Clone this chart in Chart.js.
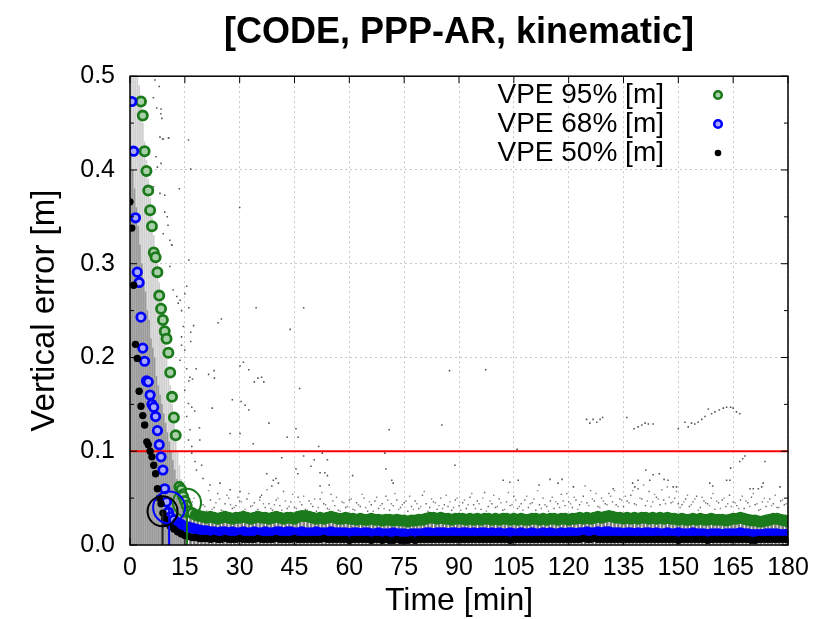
<!DOCTYPE html>
<html>
<head>
<meta charset="utf-8">
<script src="https://cdn.jsdelivr.net/npm/chart.js@4/dist/chart.umd.min.js"></script>
<style>
  html, body { margin: 0; padding: 0; background: #fff; }
  #wrap { width: 819px; height: 619px; position: relative; }
</style>
</head>
<body>
<div id="wrap"><canvas id="vpeChart"></canvas></div>
<script>
// ---- data ----
// percentile points before convergence (time [min], value [m])
const greenEarlyT = [3, 3.5, 4, 4.5, 5, 5.5, 6, 6.5, 7, 7.5, 8, 8.5, 9, 9.5, 10, 10.5, 11, 11.5, 12, 12.5, 13.5, 14, 14.5, 15, 15.5];
const greenEarlyV = [0.473, 0.458, 0.420, 0.399, 0.378, 0.357, 0.340, 0.312, 0.307, 0.291, 0.266, 0.252, 0.240, 0.228, 0.220, 0.205, 0.184, 0.158, 0.136, 0.117, 0.062, 0.059, 0.052, 0.047, 0.042];
const blueEarlyT = [0.5, 1, 1.5, 2, 2.5, 3, 3.5, 4, 4.5, 5, 5.5, 6, 6.5, 7, 7.5, 8, 8.5, 9, 9.5, 10, 10.5];
const blueEarlyV = [0.473, 0.420, 0.349, 0.291, 0.280, 0.243, 0.210, 0.196, 0.175, 0.174, 0.160, 0.150, 0.147, 0.137, 0.122, 0.107, 0.094, 0.080, 0.060, 0.046, 0.035];
const blackEarlyT = [0, 0.5, 1, 1.5, 2, 2.5, 3, 3.5, 4, 4.6, 5, 5.5, 6, 6.5, 7, 7.5, 8, 8.5, 9, 9.5];
const blackEarlyV = [0.366, 0.338, 0.277, 0.214, 0.199, 0.164, 0.148, 0.138, 0.128, 0.110, 0.107, 0.100, 0.094, 0.085, 0.076, 0.060, 0.050, 0.044, 0.034, 0.028];

// percentile values once per minute after convergence
const greenLateStart = 16;
const greenLate = [
  0.036,0.034,0.032,0.031,0.030,0.029,0.030,0.029,0.028,0.029,0.030,0.029,0.028,0.029,0.029,
  0.030,0.029,0.028,0.029,0.030,0.029,0.029,0.028,0.029,0.030,0.029,0.028,0.029,0.029,0.028,
  0.030,0.031,0.031,0.030,0.029,0.028,0.029,0.028,0.029,0.030,0.029,0.028,0.028,0.029,0.028,
  0.028,0.027,0.028,0.027,0.027,0.028,0.027,0.027,0.026,0.027,0.027,0.026,0.027,0.026,0.026,
  0.025,0.026,0.026,0.027,0.027,0.028,0.029,0.029,0.028,0.029,0.028,0.028,0.027,0.028,0.028,
  0.028,0.027,0.028,0.027,0.028,0.027,0.028,0.028,0.027,0.028,0.027,0.028,0.028,0.027,0.028,
  0.027,0.028,0.027,0.027,0.028,0.028,0.027,0.028,0.027,0.028,0.028,0.027,0.028,0.028,0.027,
  0.028,0.028,0.029,0.028,0.029,0.028,0.029,0.030,0.029,0.030,0.031,0.030,0.029,0.029,0.028,
  0.029,0.028,0.029,0.028,0.029,0.029,0.028,0.029,0.028,0.029,0.028,0.029,0.028,0.028,0.027,
  0.028,0.027,0.027,0.028,0.027,0.028,0.027,0.027,0.028,0.027,0.027,0.027,0.026,0.027,0.028,
  0.028,0.029,0.028,0.027,0.026,0.026,0.025,0.025,0.026,0.027,0.028,0.028,0.027,0.026,0.025
];
const blueLateStart = 11;
const blueLate = [
  0.030,0.027,0.024,0.022,0.020,0.019,0.018,0.017,0.016,0.015,
  0.015,0.014,0.014,0.013,0.014,0.014,0.013,0.014,0.013,0.013,0.014,0.013,0.013,0.014,0.013,0.013,
  0.014,0.013,0.013,0.014,0.014,0.013,0.014,0.014,0.013,0.013,0.014,0.013,0.013,0.013,0.014,0.013,
  0.013,0.013,0.014,0.013,0.013,0.013,0.013,0.012,0.013,0.013,0.012,0.013,0.013,0.012,0.012,0.013,
  0.012,0.012,0.012,0.013,0.012,0.012,0.012,0.011,0.012,0.012,0.012,0.012,0.013,0.013,0.012,0.013,
  0.013,0.013,0.012,0.013,0.013,0.012,0.013,0.013,0.012,0.013,0.012,0.013,0.013,0.012,0.013,0.012,
  0.013,0.012,0.012,0.013,0.012,0.012,0.013,0.012,0.012,0.013,0.012,0.012,0.013,0.012,0.013,0.012,
  0.012,0.013,0.012,0.013,0.013,0.012,0.013,0.013,0.014,0.013,0.013,0.014,0.013,0.014,0.014,0.013,
  0.013,0.013,0.012,0.013,0.013,0.012,0.013,0.012,0.013,0.013,0.012,0.013,0.012,0.012,0.013,0.012,
  0.012,0.013,0.012,0.012,0.012,0.013,0.012,0.012,0.012,0.011,0.012,0.012,0.012,0.011,0.012,0.012,
  0.012,0.012,0.013,0.012,0.012,0.011,0.011,0.011,0.011,0.012,0.012,0.012,0.012,0.011,0.011,0.011
];
const blackLateStart = 10;
const blackLate = [
  0.024,0.020,0.017,0.014,0.012,0.010,0.009,
  0.008,0.008,0.007,0.007,0.007,0.006,0.007,0.006,0.006,0.007,0.006,0.006,0.006,0.007,0.006,0.006,
  0.006,0.006,0.007,0.006,0.006,0.006,0.006,0.007,0.006,0.006,0.006,0.006,0.007,0.006,0.006,0.006,
  0.006,0.006,0.006,0.006,0.007,0.006,0.006,0.006,0.006,0.006,0.006,0.005,0.006,0.006,0.006,0.006,
  0.006,0.005,0.006,0.006,0.005,0.006,0.005,0.005,0.006,0.005,0.005,0.005,0.006,0.005,0.006,0.006,
  0.006,0.006,0.006,0.006,0.006,0.006,0.006,0.006,0.006,0.006,0.006,0.006,0.006,0.006,0.006,0.006,
  0.006,0.006,0.006,0.006,0.006,0.006,0.006,0.005,0.006,0.006,0.006,0.006,0.006,0.006,0.006,0.006,
  0.006,0.006,0.006,0.006,0.006,0.006,0.006,0.006,0.006,0.006,0.006,0.007,0.006,0.006,0.007,0.006,
  0.006,0.006,0.006,0.006,0.006,0.006,0.006,0.006,0.006,0.006,0.006,0.006,0.006,0.006,0.006,0.006,
  0.006,0.006,0.006,0.006,0.006,0.005,0.006,0.006,0.006,0.006,0.006,0.006,0.006,0.005,0.006,0.006,
  0.006,0.006,0.006,0.006,0.006,0.006,0.006,0.006,0.006,0.005,0.005,0.006,0.006,0.006,0.006,0.006,
  0.006,0.006,0.006,0.006
];

// convergence markers: 50%, 68%, 95%
const convT = [8.9, 10.7, 15.6];
const convV = [0.036, 0.040, 0.045];

// individual errors during convergence, every 30 s: outer extent and dense core
const cloudT = [0,0.5,1,1.5,2,2.5,3,3.5,4,4.5,5,5.5,6,6.5,7,7.5,8,8.5,9,9.5,10,10.5,11,11.5,12,12.5,13,13.5,14,14.5,15,15.5];
const cloudTop = [0.50,0.50,0.50,0.50,0.50,0.49,0.47,0.45,0.43,0.41,0.39,0.37,0.35,0.33,0.31,0.30,0.28,0.26,0.25,0.23,0.21,0.19,0.17,0.15,0.13,0.115,0.10,0.085,0.07,0.06,0.05,0.045];
const cloudCore = [0.40,0.42,0.40,0.38,0.36,0.34,0.32,0.30,0.28,0.27,0.25,0.24,0.22,0.21,0.20,0.18,0.17,0.16,0.15,0.14,0.13,0.12,0.11,0.10,0.09,0.08,0.07,0.06,0.05,0.045,0.04,0.035];

// individual errors just above the 95% band, two per minute
const sprayStart = 16;
const spray = [
  0.041,0.046,0.038,0.052,0.043,0.036,0.048,0.040,0.055,0.037,0.044,0.050,0.039,0.042,0.047,
  0.036,0.049,0.041,0.045,0.038,0.053,0.040,0.044,0.037,0.048,0.042,0.057,0.039,0.046,0.040,
  0.051,0.043,0.038,0.047,0.041,0.036,0.049,0.044,0.039,0.054,0.042,0.037,0.046,0.040,0.048,
  0.038,0.045,0.041,0.050,0.036,0.043,0.047,0.039,0.044,0.052,0.037,0.042,0.048,0.040,0.045,
  0.036,0.041,0.047,0.039,0.053,0.044,0.040,0.046,0.038,0.050,0.043,0.041,0.037,0.048,0.042,
  0.045,0.039,0.051,0.043,0.047,0.038,0.056,0.041,0.044,0.040,0.049,0.037,0.046,0.042,0.052,
  0.039,0.044,0.048,0.040,0.045,0.037,0.043,0.050,0.041,0.047,0.039,0.044,0.054,0.042,0.046,
  0.040,0.048,0.043,0.052,0.045,0.058,0.047,0.041,0.050,0.044,0.055,0.046,0.043,0.049,0.041,
  0.047,0.053,0.044,0.060,0.049,0.042,0.057,0.046,0.051,0.043,0.048,0.062,0.045,0.050,0.044,
  0.043,0.049,0.041,0.046,0.052,0.040,0.047,0.044,0.050,0.038,0.045,0.048,0.041,0.053,0.046,
  0.042,0.048,0.039,0.045,0.051,0.043,0.037,0.046,0.041,0.049,0.044,0.040,0.047,0.043,0.038
];
const spray2Start = 15.5;
const spray2 = [
  0.044,0.039,0.050,0.035,0.047,0.041,0.058,0.038,0.045,0.049,0.036,0.053,0.043,0.040,0.051,
  0.046,0.038,0.055,0.042,0.036,0.048,0.044,0.059,0.039,0.043,0.050,0.037,0.047,0.041,0.054,
  0.039,0.046,0.052,0.037,0.044,0.049,0.040,0.056,0.043,0.038,0.047,0.051,0.036,0.045,0.041,
  0.049,0.037,0.043,0.054,0.040,0.046,0.036,0.051,0.042,0.039,0.048,0.044,0.055,0.038,0.043,
  0.047,0.052,0.038,0.044,0.041,0.057,0.036,0.049,0.045,0.042,0.039,0.053,0.046,0.040,0.050,
  0.037,0.048,0.043,0.055,0.039,0.044,0.050,0.036,0.047,0.053,0.041,0.045,0.038,0.056,0.043,
  0.048,0.041,0.037,0.052,0.044,0.049,0.058,0.039,0.043,0.036,0.051,0.046,0.040,0.047,0.055,
  0.044,0.051,0.038,0.046,0.063,0.042,0.049,0.055,0.040,0.047,0.043,0.052,0.058,0.041,0.048,
  0.052,0.045,0.058,0.043,0.050,0.064,0.047,0.041,0.054,0.049,0.059,0.044,0.051,0.046,0.057,
  0.040,0.046,0.053,0.043,0.049,0.037,0.051,0.045,0.042,0.055,0.047,0.039,0.050,0.044,0.041,
  0.045,0.039,0.052,0.047,0.041,0.055,0.044,0.038,0.050,0.046,0.042,0.053,0.040,0.048,0.044
];

// scattered individual errors (time [min], value [m])
const outlierT = [
  6.8,8.0,6.4,7.3,8.4,8.7,8.2,9.1,10.6,16.0,7.1,7.5,6.4,13.5,8.2,10.2,10.9,9.1,11.4,
  8.5,8.9,10.5,16.6,8.5,9.5,9.5,30.0,10.4,11.5,16.1,15.5,15.0,13.7,16.1,34.5,47.5,25.0,24.1,17.4,
  43.8,16.6,14.1,16.6,31.0,30.1,18.1,23.0,21.5,23.1,32.5,35.0,36.0,34.0,36.6,17.1,16.1,46.4,28.0,
  30.4,31.5,22.5,32.5,17.7,38.0,19.0,45.4,87.4,97.3,85.3,70.9,
  10.9,11.8,12.8,13.2,14.1,14.6,14.1,15.0,13.7,15.5,16.4,15.0,16.0,16.9,15.5,16.4,16.0,16.9,
  16.9,18.2,20.0,21.9,24.6,27.4,30.1,35.6,19.6,17.8,19.1,27.4,30.1,33.7,37.4,39.2,
  43.0,46.0,51.6,39.4,52.6,69.7,105.9,41.5,47.5,50.4,54.0,88.9,49.5,45.4,70.0,52.0,53.3,45.9,
  54.0,60.9,71.6,39.9,40.6,38.8,72.0,102.1,103.9,106.2,114.9,117.1,118.2,111.9,52.0,54.5,
  124.9,125.8,126.7,127.7,128.6,129.3,135.9,137.9,139.0,140.0,140.9,141.8,143.1,
  150.0,151.8,152.7,153.6,154.5,155.4,156.4,157.3,158.2,159.1,160.0,161.2,162.3,163.2,164.3,165.0,165.9,166.8,
  168.2,167.6,166.8,164.3,173.7,141.1,144.8,143.1,139.0,142.2,132.2,121.3,158.6,159.4,163.2,164.1,
  169.6,170.5,171.9,172.8,173.2,177.8,148.6,149.5,147.2,146.1,138.1,137.5
];
const outlierV = [
  0.496,0.489,0.477,0.466,0.460,0.455,0.435,0.433,0.434,0.432,0.414,0.403,0.382,0.380,0.375,0.350,0.325,0.332,0.320,
  0.465,0.433,0.434,0.401,0.407,0.373,0.355,0.360,0.341,0.320,0.304,0.276,0.268,0.261,0.253,0.253,0.253,0.241,0.237,0.234,
  0.230,0.227,0.213,0.217,0.195,0.191,0.188,0.186,0.182,0.178,0.187,0.178,0.179,0.174,0.174,0.177,0.175,0.167,0.155,
  0.153,0.149,0.146,0.144,0.143,0.130,0.125,0.124,0.186,0.187,0.128,0.123,
  0.297,0.272,0.265,0.258,0.250,0.233,0.222,0.208,0.197,0.188,0.179,0.165,0.151,0.147,0.137,0.123,0.112,0.105,
  0.098,0.080,0.071,0.064,0.066,0.059,0.057,0.051,0.085,0.089,0.112,0.119,0.119,0.108,0.076,0.069,
  0.115,0.115,0.105,0.100,0.098,0.098,0.102,0.093,0.095,0.091,0.091,0.085,0.084,0.081,0.081,0.077,0.077,0.076,
  0.074,0.074,0.069,0.071,0.066,0.063,0.066,0.069,0.067,0.069,0.070,0.066,0.070,0.064,0.063,0.064,
  0.134,0.130,0.134,0.131,0.134,0.136,0.136,0.124,0.126,0.128,0.130,0.129,0.129,
  0.124,0.131,0.126,0.130,0.129,0.131,0.134,0.137,0.145,0.140,0.142,0.144,0.146,0.147,0.147,0.146,0.142,0.140,
  0.095,0.092,0.089,0.082,0.089,0.080,0.076,0.075,0.069,0.069,0.060,0.062,0.066,0.063,0.069,0.069,
  0.060,0.060,0.060,0.062,0.066,0.062,0.062,0.062,0.069,0.070,0.062,0.066
];

const refLevel = 0.1;
const xTicks = { min: 0, max: 180, step: 15 };
const yTicks = { min: 0, max: 0.5, step: 0.1 };
const legendLabels = ['VPE 95% [m]', 'VPE 68% [m]', 'VPE 50% [m]'];

// ---- helpers ----
const FONT = "'Liberation Sans', Arial, Helvetica, sans-serif";
const GREEN = '#1b7a1b';
const GREEN_IN = '#a8d0a8';
const BLUE = '#0000ff';
const BLUE_IN = '#a8a8ff';
const BLACK = '#000000';

function pairs(ts, vs) { return ts.map((t, i) => ({ x: t, y: vs[i] })); }
function perMinute(start, vs) { return vs.map((v, i) => ({ x: start + i, y: v })); }

const greenPts = pairs(greenEarlyT, greenEarlyV).concat(perMinute(greenLateStart, greenLate));
const bluePts = pairs(blueEarlyT, blueEarlyV).concat(perMinute(blueLateStart, blueLate));
const blackPts = pairs(blackEarlyT, blackEarlyV).concat(perMinute(blackLateStart, blackLate));

function convLine(i, color) {
  return {
    type: 'line', data: [{ x: convT[i], y: 0 }, { x: convT[i], y: convV[i] }],
    borderColor: color, borderWidth: 2, pointRadius: 0, showLine: true, fill: false
  };
}
function convCircle(i, color, r) {
  return {
    type: 'scatter', data: [{ x: convT[i], y: convV[i] }],
    pointRadius: r, borderWidth: 2, borderColor: color, backgroundColor: 'rgba(0,0,0,0)', pointStyle: 'circle'
  };
}
function columns(data, color, width) {
  return { type: 'bar', data: data, barThickness: width, backgroundColor: color, borderWidth: 0 };
}

// frame, inward ticks and the in-plot key
const framePlugin = {
  id: 'frame',
  afterDatasetsDraw(chart) {
    const { ctx, chartArea: a, scales: { x, y } } = chart;
    ctx.save();
    ctx.strokeStyle = '#000';
    ctx.lineWidth = 1.5;
    ctx.strokeRect(a.left, a.top, a.right - a.left, a.bottom - a.top);
    ctx.lineWidth = 1;
    ctx.beginPath();
    x.ticks.forEach(t => {
      const px = x.getPixelForValue(t.value);
      ctx.moveTo(px, a.bottom); ctx.lineTo(px, a.bottom - 7);
      ctx.moveTo(px, a.top); ctx.lineTo(px, a.top + 7);
    });
    y.ticks.forEach((t, i) => {
      const py = y.getPixelForValue(t.value);
      ctx.moveTo(a.left, py); ctx.lineTo(a.left + 7, py);
      ctx.moveTo(a.right, py); ctx.lineTo(a.right - 7, py);
      if (i < y.ticks.length - 1) {
        const pm = y.getPixelForValue(t.value + yTicks.step / 2);
        ctx.moveTo(a.left, pm); ctx.lineTo(a.left + 4, pm);
        ctx.moveTo(a.right, pm); ctx.lineTo(a.right - 4, pm);
      }
    });
    ctx.stroke();

    // key
    const rows = [95, 124, 153];
    const marks = [
      { c: GREEN, fill: GREEN_IN, ring: true },
      { c: BLUE, fill: BLUE_IN, ring: true },
      { c: BLACK, fill: BLACK, ring: false }
    ];
    ctx.font = '28px ' + FONT;
    ctx.textAlign = 'right';
    ctx.textBaseline = 'middle';
    legendLabels.forEach((lab, i) => {
      ctx.fillStyle = '#000';
      ctx.fillText(lab, 664, rows[i]);
      ctx.beginPath();
      ctx.arc(718, rows[i], marks[i].ring ? 3.8 : 3.3, 0, Math.PI * 2);
      ctx.fillStyle = marks[i].fill;
      ctx.fill();
      if (marks[i].ring) {
        ctx.strokeStyle = marks[i].c;
        ctx.lineWidth = 2.6;
        ctx.stroke();
      }
    });
    ctx.restore();
  }
};

const ctx = document.getElementById('vpeChart').getContext('2d');
new Chart(ctx, {
  type: 'scatter',
  data: {
    datasets: [
      convCircle(0, BLACK, 15),
      convCircle(1, BLUE, 16),
      convCircle(2, GREEN, 14),
      convLine(0, '#222'),
      convLine(1, BLUE),
      convLine(2, GREEN),
      {
        label: legendLabels[2], data: blackPts,
        pointRadius: 3.7, pointBorderWidth: 0, backgroundColor: BLACK, borderColor: BLACK
      },
      {
        label: legendLabels[1], data: bluePts,
        pointRadius: 4.2, borderWidth: 2.8, borderColor: BLUE,
        // rings overlap into a solid band once converged
        backgroundColor: c => (c.raw && c.raw.x > blueLateStart + 1 ? BLUE : BLUE_IN)
      },
      {
        label: legendLabels[0], data: greenPts,
        pointRadius: 4.6, borderWidth: 2.8, borderColor: GREEN,
        backgroundColor: c => (c.raw && c.raw.x > greenLateStart + 1 ? GREEN : GREEN_IN)
      },
      {
        type: 'line', data: [{ x: xTicks.min, y: refLevel }, { x: xTicks.max, y: refLevel }],
        borderColor: '#ff0000', borderWidth: 2, pointRadius: 0, showLine: true, fill: false
      },
      {
        data: pairs(outlierT, outlierV),
        pointStyle: 'rect', pointRadius: 1.1, borderWidth: 0, backgroundColor: '#555'
      },
      {
        data: perMinute(sprayStart, spray),
        pointStyle: 'rect', pointRadius: 1, borderWidth: 0, backgroundColor: '#666'
      },
      {
        data: perMinute(spray2Start, spray2),
        pointStyle: 'rect', pointRadius: 1, borderWidth: 0, backgroundColor: '#888'
      },
      columns(pairs(cloudT, cloudCore), '#9a9a9a', 1),
      columns(pairs(cloudT, cloudTop), '#cfcfcf', 1),
      columns(perMinute(greenLateStart, greenLate), '#808080', 2)
    ]
  },
  options: {
    responsive: true,
    maintainAspectRatio: false,
    animation: false,
    events: [],
    layout: { padding: { left: 0, right: 31, top: 0, bottom: 0 } },
    plugins: {
      legend: { display: false },
      tooltip: { enabled: false },
      title: {
        display: true,
        fullSize: false,
        text: '[CODE, PPP-AR, kinematic]',
        color: '#000',
        font: { family: FONT, size: 36, weight: 'bold', lineHeight: 1.2 },
        padding: { top: 11, bottom: 22 }
      }
    },
    scales: {
      x: {
        type: 'linear',
        offset: false,
        min: xTicks.min, max: xTicks.max,
        ticks: { stepSize: xTicks.step, color: '#000', padding: 8, font: { family: FONT, size: 25 }, maxRotation: 0, autoSkip: false },
        grid: { color: '#c8c8c8', drawTicks: false, offset: false },
        border: { display: false, dash: [2, 3] },
        title: { display: true, text: 'Time [min]', color: '#000', font: { family: FONT, size: 32, lineHeight: 1 }, padding: { top: 0, bottom: 2 } },
        afterFit(scale) { scale.height = 74; }
      },
      y: {
        min: yTicks.min, max: yTicks.max,
        ticks: { stepSize: yTicks.step, color: '#000', padding: 15, font: { family: FONT, size: 25 }, callback: v => v.toFixed(1) },
        grid: { color: '#c8c8c8', drawTicks: false },
        border: { display: false, dash: [2, 3] },
        title: { display: true, text: 'Vertical error [m]', color: '#000', font: { family: FONT, size: 33, lineHeight: 1.2 }, padding: { top: 25, bottom: 0 } },
        afterFit(scale) { scale.width = 130; }
      }
    }
  },
  plugins: [framePlugin]
});
</script>
</body>
</html>
